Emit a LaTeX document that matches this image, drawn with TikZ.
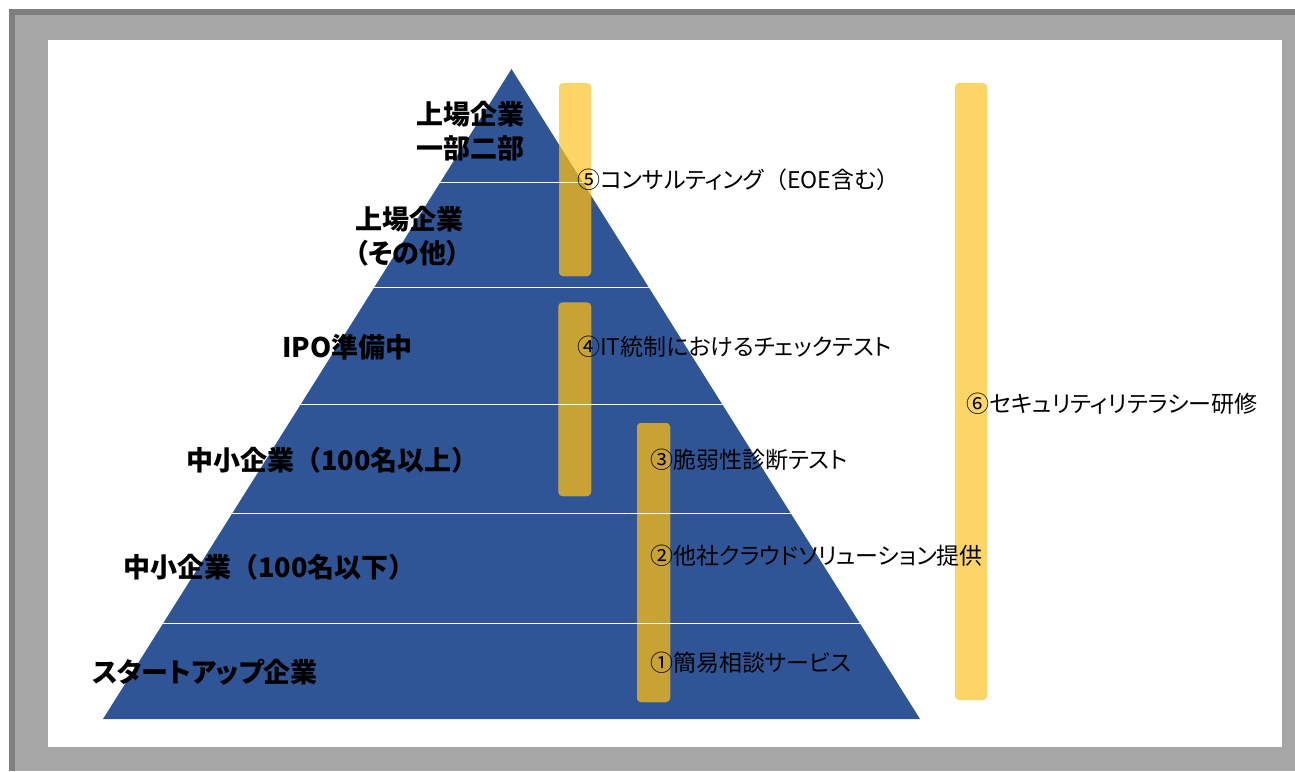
\documentclass[tikz,border=0pt]{standalone}
\usepackage{fontspec}
\newfontfamily\jp{Noto Sans CJK JP}[RawFeature=+palt]
\newfontfamily\jpw{Noto Sans CJK JP}
\newcommand{\wlp}{{\jpw （}}
\newcommand{\wrp}{{\jpw ）}}
\definecolor{framedark}{HTML}{7F7F7F}
\definecolor{framegray}{HTML}{A6A6A6}
\definecolor{pyr}{HTML}{2F5597}
\definecolor{baryellow}{HTML}{FDD566}
\definecolor{bargold}{HTML}{C8A232}
\tikzset{
  lab/.style={font=\jp\bfseries\fontsize{27}{34}\selectfont, anchor=west, inner sep=0pt, align=left, text=black},
  svc/.style={font=\jp\fontsize{23}{28}\selectfont, anchor=west, inner sep=0pt, text=black},
  sep/.style={draw=white, line width=1.4pt},
  barshape/.style={rounded corners=4pt}
}
\begin{document}
\begin{tikzpicture}[x=1pt,y=-1pt]
\useasboundingbox (0,0) rectangle (1295,771);
\fill[white] (0,0) rectangle (1295,771);
\fill[framedark] (9,9) rectangle (1295,771);
\fill[framegray] (15,15) rectangle (1295,771);
\fill[white] (48,40) rectangle (1282,747);
% pyramid
\coordinate (apex) at (511.5,69);
\coordinate (bl) at (103,719);
\coordinate (br) at (920,719);
\fill[pyr] (apex) -- (bl) -- (br) -- cycle;
% bars
\fill[baryellow, barshape] (559,83) rectangle (591,276);
\fill[baryellow, barshape] (558.5,302.5) rectangle (591,496);
\fill[baryellow, barshape] (637,423) rectangle (670,702);
\fill[baryellow, barshape] (955,83) rectangle (987,700);
\begin{scope}
  \clip (apex) -- (bl) -- (br) -- cycle;
  \fill[bargold, barshape] (559,83) rectangle (591,276);
  \fill[bargold, barshape] (558.5,302.5) rectangle (591,496);
  \fill[bargold, barshape] (637,423) rectangle (670,702);
  \foreach \yy in {182.5,287.5,404.5,513.5,623.5}
    \draw[sep] (100,\yy) -- (925,\yy);
\end{scope}
% left labels
\node[lab] (t1) at (416,131) {上場企業\\一部二部};
\node[lab] (t2) at (355,236) {上場企業\\（その他）};
\node[lab] (t3) at (282,347) {IPO準備中};
\node[lab] (t4) at (186,460) {中小企業\wlp 100名以上\wrp};
\node[lab] (t5) at (123,567) {中小企業\wlp 100名以下\wrp};
\node[lab] (t6) at (92,672) {スタートアップ企業};
% service labels
\node[svc] (s5) at (577,180) {⑤コンサルティング\wlp EOE含む\wrp};
\node[svc] (s4) at (577,347) {④IT統制におけるチェックテスト};
\node[svc] (s3) at (650,460) {③脆弱性診断テスト};
\node[svc] (s2) at (650,556) {②他社クラウドソリューション提供};
\node[svc] (s1) at (650,663) {①簡易相談サービス};
\node[svc] (s6) at (966,404) {⑥セキュリティリテラシー研修};
\end{tikzpicture}
\end{document}
